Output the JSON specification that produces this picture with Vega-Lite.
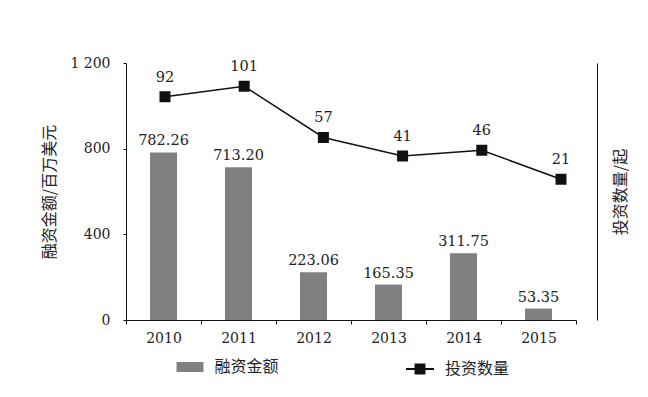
{
  "$schema": "https://vega.github.io/schema/vega-lite/v6.json",
  "width": 471,
  "height": 257,
  "autosize": {"type": "none"},
  "padding": {"left": 126, "top": 63, "right": 51, "bottom": 77},
  "background": "white",
  "config": {
    "view": {"stroke": null},
    "font": "DejaVu Serif",
    "axis": {
      "labelFont": "DejaVu Serif",
      "labelFontSize": 14,
      "labelColor": "#222",
      "domainColor": "#111",
      "tickColor": "#111",
      "titleFont": "Noto Sans CJK SC",
      "titleFontSize": 16,
      "titleFontWeight": "normal",
      "titleColor": "#222",
      "grid": false
    },
    "legend": {
      "labelFont": "Noto Sans CJK SC",
      "labelFontSize": 16,
      "labelColor": "#222"
    }
  },
  "data": {
    "values": [
      {"year": "2010", "amount": 782.26, "count": 92},
      {"year": "2011", "amount": 713.2, "count": 101},
      {"year": "2012", "amount": 223.06, "count": 57},
      {"year": "2013", "amount": 165.35, "count": 41},
      {"year": "2014", "amount": 311.75, "count": 46},
      {"year": "2015", "amount": 53.35, "count": 21}
    ]
  },
  "layer": [
    {
      "encoding": {
        "x": {
          "field": "year",
          "type": "nominal",
          "scale": {"type": "band", "range": [0, 450], "paddingInner": 0, "paddingOuter": 0},
          "axis": {"title": null, "labelAngle": 0, "tickBand": "extent", "tickSize": 4, "labelPadding": 7}
        },
        "y": {
          "field": "amount",
          "type": "quantitative",
          "scale": {"domain": [0, 1200], "nice": false, "zero": true},
          "axis": {
            "values": [0, 400, 800, 1200],
            "labelExpr": "datum.value >= 1000 ? '1 200' : datum.label",
            "title": "融资金额/百万美元",
            "tickSize": 3,
            "labelPadding": 13,
            "titleX": -77,
            "titleY": 128.5,
            "titleAngle": -90,
            "titleAlign": "center",
            "titleBaseline": "middle"
          }
        }
      },
      "layer": [
        {
          "mark": {"type": "bar", "size": 27},
          "encoding": {
            "fill": {
              "datum": "融资金额",
              "type": "nominal",
              "scale": {"range": ["#808083"]},
              "legend": {
                "orient": "none",
                "legendX": 50.5,
                "legendY": 290.5,
                "title": null,
                "padding": 0,
                "symbolType": "M-1,-0.37H1V0.37H-1Z",
                "symbolSize": 729,
                "symbolStrokeWidth": 0,
                "labelOffset": 11
              }
            }
          }
        },
        {
          "mark": {"type": "text", "dy": -7, "baseline": "alphabetic", "fontSize": 14.5, "color": "#222", "font": "DejaVu Serif"},
          "encoding": {
            "text": {"field": "amount", "type": "quantitative", "format": ".2f"}
          }
        }
      ]
    },
    {
      "encoding": {
        "x": {
          "field": "year",
          "type": "nominal",
          "scale": {"type": "point", "range": [39, 435], "padding": 0},
          "axis": null
        },
        "y": {
          "field": "count",
          "type": "quantitative",
          "scale": {"domain": [-100, 121], "nice": false, "zero": false},
          "axis": {
            "orient": "right",
            "labels": false,
            "ticks": false,
            "title": "投资数量/起",
            "titleX": 23,
            "titleY": 128.5,
            "titleAngle": -90,
            "titleAlign": "center",
            "titleBaseline": "middle"
          }
        }
      },
      "layer": [
        {
          "mark": {
            "type": "line",
            "strokeWidth": 1.5,
            "point": {"shape": "square", "size": 81, "filled": true, "color": "#111"}
          },
          "encoding": {
            "stroke": {
              "datum": "投资数量",
              "type": "nominal",
              "scale": {"range": ["#111"]},
              "legend": {
                "orient": "none",
                "legendX": 279,
                "legendY": 291,
                "title": null,
                "padding": 0,
                "symbolType": "M-1,0H1M-0.32,-0.32H0.32V0.32H-0.32Z",
                "symbolSize": 784,
                "symbolStrokeWidth": 2,
                "symbolFillColor": "#111",
                "labelOffset": 10
              }
            }
          }
        },
        {
          "mark": {"type": "text", "dy": -15, "baseline": "alphabetic", "fontSize": 14.5, "color": "#222", "font": "DejaVu Serif"},
          "encoding": {
            "text": {"field": "count", "type": "quantitative"}
          }
        }
      ]
    }
  ],
  "resolve": {"scale": {"x": "independent", "y": "independent"}}
}
